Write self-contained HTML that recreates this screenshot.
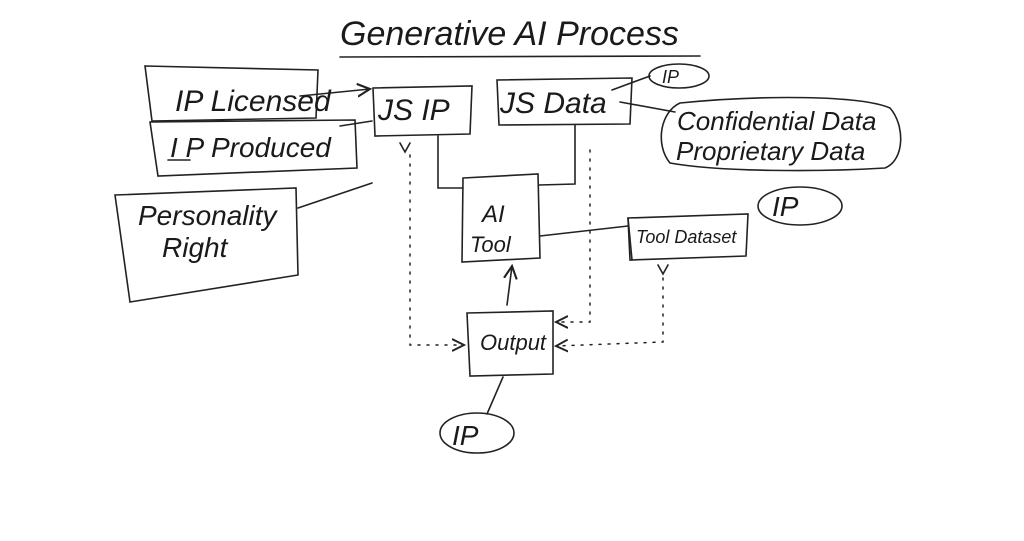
<!DOCTYPE html>
<html><head><meta charset="utf-8"><style>
html,body{margin:0;padding:0;background:#fff;width:1024px;height:541px;overflow:hidden}
svg text{font-family:"Liberation Sans Narrow","Liberation Sans",sans-serif;font-style:italic;fill:#1a1a1a}
</style></head><body>
<svg width="1024" height="541" viewBox="0 0 1024 541" xmlns="http://www.w3.org/2000/svg">
<defs><marker id="a" markerWidth="10" markerHeight="10" refX="8" refY="5" orient="auto"><path d="M0,1 L8,5 L0,9" fill="none" stroke="#222" stroke-width="1.3"/></marker></defs>
<g fill="none" stroke="#222" stroke-width="1.6" stroke-linecap="round">
<!-- title underline -->
<path d="M340,57 L700,56"/>
<!-- IP Licensed -->
<path d="M145,66 L318,70 L316,118 L152,121 Z"/>
<!-- IP Produced -->
<path d="M150,122 L355,120 L357,168 L158,176 Z"/>
<path d="M168,160 L190,160"/>
<!-- Personality -->
<path d="M115,195 L296,188 L298,275 L130,302 Z"/>
<!-- JS IP -->
<path d="M373,88 L472,86 L470,134 L375,136 Z"/>
<!-- JS Data -->
<path d="M497,80 L632,78 L630,124 L499,125 Z"/>
<!-- IP oval top -->
<ellipse cx="679" cy="76" rx="30" ry="12"/>
<!-- Confidential -->
<path d="M680,103 C760,95 860,95 890,108 C905,125 905,160 885,168 C820,172 720,172 670,163 C655,145 660,112 680,103 Z"/>
<!-- AI tool -->
<path d="M463,178 L538,174 L540,258 L462,262 Z"/>
<!-- Tool dataset -->
<path d="M628,218 L748,214 L746,256 L630,260 Z"/>
<path d="M628,218 L632,260"/>
<!-- IP oval right -->
<ellipse cx="800" cy="206" rx="42" ry="19"/>
<!-- Output -->
<path d="M467,313 L553,311 L553,374 L470,376 Z"/>
<!-- IP bottom -->
<ellipse cx="477" cy="433" rx="37" ry="20"/>
<!-- connectors -->
<path d="M300,96 L370,89" marker-end="url(#a)"/>
<path d="M340,126 L372,121"/>
<path d="M298,208 L372,183"/>
<path d="M438,136 L438,188 L463,188"/>
<path d="M575,125 L575,184 L539,185"/>
<path d="M620,102 L675,112"/>
<path d="M612,90 L650,76"/>
<path d="M540,236 L628,226"/>
<path d="M507,305 L512,266" marker-end="url(#a)"/>
<path d="M503,377 L487,414"/>
<path d="M400,143 L405,152 L410,143"/>
<path d="M658,265 L663,274 L668,265"/>
<g stroke-dasharray="2,7" stroke-width="1.5">
<path d="M410,155 L410,345 L464,345" marker-end="url(#a)"/>
<path d="M590,150 L590,322 L556,322" marker-end="url(#a)"/>
<path d="M663,278 L663,342 L556,346" marker-end="url(#a)"/>
</g>
</g>
<text x="340" y="45" font-size="34">Generative AI Process</text>
<text x="175" y="111" font-size="30">IP Licensed</text>
<text x="170" y="157" font-size="28">I P Produced</text>
<text x="138" y="225" font-size="28">Personality</text>
<text x="162" y="257" font-size="28">Right</text>
<text x="378" y="120" font-size="30">JS IP</text>
<text x="500" y="113" font-size="30">JS Data</text>
<text x="662" y="83" font-size="18">IP</text>
<text x="677" y="130" font-size="26">Confidential Data</text>
<text x="676" y="160" font-size="26">Proprietary Data</text>
<text x="482" y="222" font-size="24">AI</text>
<text x="470" y="252" font-size="22">Tool</text>
<text x="636" y="243" font-size="18">Tool Dataset</text>
<text x="772" y="216" font-size="28">IP</text>
<text x="480" y="350" font-size="22">Output</text>
<text x="452" y="445" font-size="28">IP</text>
</svg>
</body></html>
